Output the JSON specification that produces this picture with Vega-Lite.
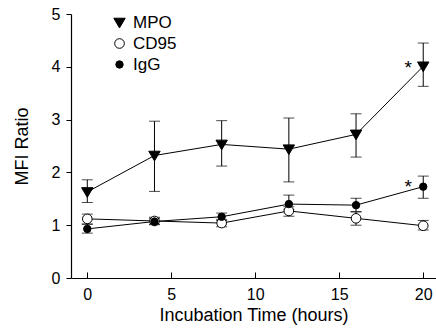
{
  "$schema": "https://vega.github.io/schema/vega-lite/v6.json",
  "width": 365,
  "height": 264,
  "autosize": "none",
  "padding": {"left": 71, "top": 14, "right": 0, "bottom": 55},
  "background": "white",
  "config": {
    "view": {"stroke": null},
    "font": "Liberation Sans",
    "axis": {"grid": false, "domainColor": "black", "tickColor": "black", "labelColor": "black", "titleColor": "black", "labelFont": "Liberation Sans", "titleFont": "Liberation Sans", "labelFontSize": 16, "titleFontSize": 18, "titleFontWeight": "normal", "domainWidth": 1.2, "tickWidth": 1}
  },
  "datasets": {
    "series": [
      {"series": "MPO", "t": 0, "y": 1.63, "lo": 1.43, "hi": 1.86},
      {"series": "MPO", "t": 4, "y": 2.32, "lo": 1.64, "hi": 2.97},
      {"series": "MPO", "t": 8, "y": 2.53, "lo": 2.12, "hi": 2.98},
      {"series": "MPO", "t": 12, "y": 2.44, "lo": 1.82, "hi": 3.03},
      {"series": "MPO", "t": 16, "y": 2.72, "lo": 2.29, "hi": 3.11},
      {"series": "MPO", "t": 20, "y": 4.01, "lo": 3.63, "hi": 4.45},
      {"series": "CD95", "t": 0, "y": 1.12, "lo": 1.02, "hi": 1.21},
      {"series": "CD95", "t": 4, "y": 1.08, "lo": 1.01, "hi": 1.15},
      {"series": "CD95", "t": 8, "y": 1.04, "lo": 0.97, "hi": 1.11},
      {"series": "CD95", "t": 12, "y": 1.27, "lo": 1.17, "hi": 1.35},
      {"series": "CD95", "t": 16, "y": 1.13, "lo": 1.0, "hi": 1.25},
      {"series": "CD95", "t": 20, "y": 0.99, "lo": 0.91, "hi": 1.09},
      {"series": "IgG", "t": 0, "y": 0.93, "lo": 0.85, "hi": 1.02},
      {"series": "IgG", "t": 4, "y": 1.07, "lo": 1.02, "hi": 1.13},
      {"series": "IgG", "t": 8, "y": 1.16, "lo": 1.09, "hi": 1.23},
      {"series": "IgG", "t": 12, "y": 1.4, "lo": 1.3, "hi": 1.57},
      {"series": "IgG", "t": 16, "y": 1.38, "lo": 1.26, "hi": 1.51},
      {"series": "IgG", "t": 20, "y": 1.73, "lo": 1.51, "hi": 1.93}
    ],
    "notes": [
      {"t": 19.1, "y": 4.09, "label": "*"},
      {"t": 19.1, "y": 1.84, "label": "*"}
    ]
  },
  "layer": [
    {
      "data": {"name": "series"},
      "mark": {"type": "errorbar", "ticks": true, "size": 11, "thickness": 1, "color": "black"},
      "encoding": {
        "x": {"field": "t", "type": "quantitative", "scale": {"domain": [-0.97, 20.76], "nice": false, "zero": false},
              "axis": {"values": [0, 5, 10, 15, 20], "tickSize": -6, "labelPadding": 14, "title": "Incubation Time (hours)", "titlePadding": 4}},
        "y": {"field": "lo", "type": "quantitative", "scale": {"domain": [0, 5], "nice": false},
              "axis": {"values": [0, 1, 2, 3, 4, 5], "tickSize": 5, "labelPadding": 6, "title": "MFI Ratio", "titlePadding": 20}},
        "y2": {"field": "hi"}
      }
    },
    {
      "data": {"name": "series"},
      "mark": {"type": "line", "color": "black", "strokeWidth": 1},
      "encoding": {
        "x": {"field": "t", "type": "quantitative"},
        "y": {"field": "y", "type": "quantitative"},
        "detail": {"field": "series"}
      }
    },
    {
      "data": {"name": "series"},
      "mark": {"type": "point", "filled": true, "stroke": "black", "strokeWidth": 1, "opacity": 1},
      "encoding": {
        "x": {"field": "t", "type": "quantitative"},
        "y": {"field": "y", "type": "quantitative"},
        "shape": {"field": "series", "type": "nominal", "scale": {"domain": ["MPO", "CD95", "IgG"], "range": ["M-1,-0.75L1,-0.75L0,0.95Z", "circle", "circle"]},
                  "legend": {"title": null, "orient": "none", "legendX": 40, "legendY": 0, "labelFontSize": 17, "labelFont": "Liberation Sans", "labelColor": "black", "rowPadding": 3, "labelOffset": 5, "padding": 0, "symbolStrokeColor": "black", "symbolStrokeWidth": 1}},
        "fill": {"field": "series", "type": "nominal", "scale": {"domain": ["MPO", "CD95", "IgG"], "range": ["black", "white", "black"]}},
        "size": {"field": "series", "type": "nominal", "scale": {"domain": ["MPO", "CD95", "IgG"], "range": [130, 55, 55]}}
      }
    },
    {
      "data": {"name": "notes"},
      "mark": {"type": "text", "fontSize": 19, "font": "Liberation Sans", "color": "black", "baseline": "middle", "dy": 6},
      "encoding": {
        "x": {"field": "t", "type": "quantitative"},
        "y": {"field": "y", "type": "quantitative"},
        "text": {"field": "label"}
      }
    }
  ]
}
